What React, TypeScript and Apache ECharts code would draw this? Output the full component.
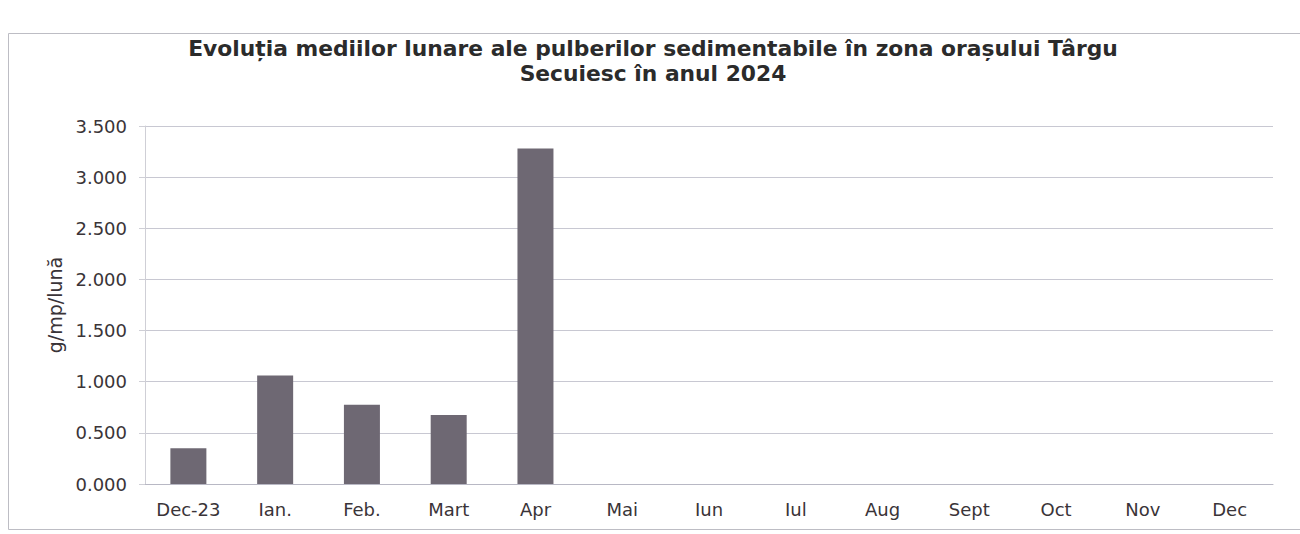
import React, { useEffect, useRef } from "react";
import * as echarts from "echarts";

const categories = ["Dec-23", "Ian.", "Feb.", "Mart", "Apr", "Mai", "Iun", "Iul", "Aug", "Sept", "Oct", "Nov", "Dec"];
const values: (number | null)[] = [0.35, 1.06, 0.775, 0.675, 3.28, null, null, null, null, null, null, null, null];
const yTicks = { min: 0, max: 3.5, interval: 0.5 };
const titleText = "Evoluția mediilor lunare ale pulberilor sedimentabile în zona orașului Târgu\nSecuiesc în anul 2024";
const yName = "g/mp/lună";

export default function App() {
  const ref = useRef<HTMLDivElement>(null);
  useEffect(() => {
    document.body.style.margin = "0";
    const chart = echarts.init(ref.current!, null, { renderer: "svg" });
    const font = "'DejaVu Sans', Verdana, sans-serif";
    chart.setOption({
      animation: false,
      backgroundColor: "#ffffff",
      textStyle: { fontFamily: font },
      title: {
        text: titleText,
        left: 648,
        textAlign: "center",
        top: 31,
        textStyle: { fontSize: 21.8, fontWeight: "bold", color: "#2b2b2b", lineHeight: 25, fontFamily: font },
      },
      graphic: [
        {
          type: "rect",
          shape: { x: 8.5, y: 33.5, width: 1310, height: 496 },
          style: { fill: "none", stroke: "#bdbdc4", lineWidth: 1 },
          silent: true,
        },
      ],
      grid: { left: 145, right: 27, top: 126, bottom: 50 },
      xAxis: {
        type: "category",
        data: categories,
        axisLine: { show: true, lineStyle: { color: "#b8b8c4", width: 1 } },
        axisTick: { show: false },
        axisLabel: { color: "#3a3438", fontSize: 18, margin: 16, fontFamily: font },
      },
      yAxis: {
        type: "value",
        min: yTicks.min,
        max: yTicks.max,
        interval: yTicks.interval,
        name: yName,
        nameLocation: "middle",
        nameGap: 80,
        nameTextStyle: { fontSize: 19, color: "#3a3438", fontFamily: font },
        axisLine: { show: true, lineStyle: { color: "#cfcfd6", width: 1 } },
        axisTick: { show: true, length: 6, lineStyle: { color: "#cfcfd6" } },
        axisLabel: {
          color: "#3a3438",
          fontSize: 18,
          margin: 18,
          fontFamily: font,
          formatter: (v: number) => v.toFixed(3),
        },
        splitLine: { show: true, lineStyle: { color: "#c8c8d2", width: 1 } },
      },
      series: [
        {
          type: "bar",
          data: values,
          barWidth: 36,
          itemStyle: { color: "#6e6873" },
        },
      ],
    });
    return () => chart.dispose();
  }, []);
  return <div ref={ref} style={{ width: 1300, height: 534 }} />;
}
